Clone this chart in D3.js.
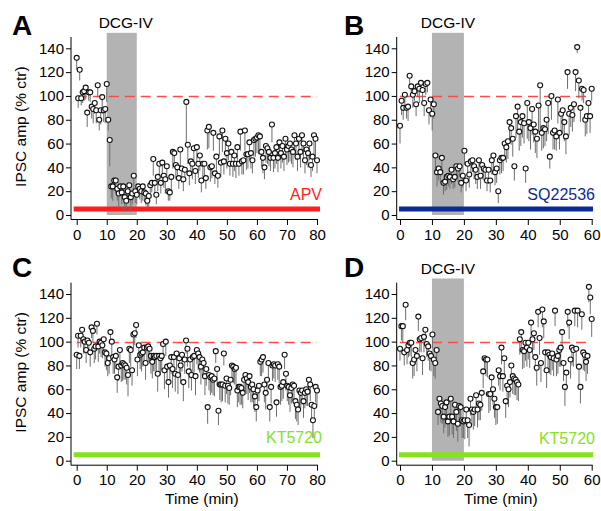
<!DOCTYPE html>
<html>
<head>
<meta charset="utf-8">
<script src="https://cdn.jsdelivr.net/npm/d3@7"></script>
<style>
  body { margin: 0; background: #fff; }
  svg { font-family: 'Liberation Sans', Arial, Helvetica, sans-serif; }
</style>
</head>
<body>
<div class="canvas"></div>
<script>
// IPSC amplitude (% ctr), samples evenly spread over each recording
const ampA = [
  132, 98, 122, 98, 103, 104, 107, 86, 103, 103, 91, 89, 94, 88, 109, 80, 88, 99, 88, 89, 110, 80, 63,
  24, 24, 29, 29, 22, 18, 24, 19, 24, 15, 12, 20, 25, 15, 18, 33, 20, 17,
  24, 22, 20, 24, 19, 18, 12, 16, 25, 27, 47, 27, 17, 32, 43, 27, 44, 33, 30, 41, 20, 19,
  32, 53, 52, 42, 40, 31, 55, 39, 30, 38,
  95, 59, 35, 45, 43, 56, 37, 57, 43, 50,
  29, 43, 43, 31, 71, 74, 40, 41, 69, 35,
  49, 33, 66, 44, 71, 45, 64, 52, 60, 43,
  53, 43, 50, 43, 57, 43, 70, 45, 46, 71,
  51, 51, 61, 52, 46, 63, 64, 65, 67, 66,
  53, 48, 40, 58, 56, 53, 48, 76, 48, 52,
  57, 48, 61, 52, 58, 49, 64, 55, 58, 60,
  55, 53, 67, 60, 49, 64, 53, 67, 60, 46,
  55, 52, 60, 42, 49, 67, 64, 46
]
const errA = [
  10, 8, 9, 6, 9, 8, 10, 12, 7, 8, 10, 12, 9, 11, 10, 9, 12, 14, 10, 12, 15, 9, 22,
  10, 12, 9, 11, 10, 12, 8, 10, 9, 12, 6, 10, 8, 12, 9, 14, 10, 8,
  8, 9, 10, 12, 8, 10, 6, 9, 10, 8, 14, 10, 8, 12, 11, 9, 13, 10, 12, 11, 8, 7,
  12, 14, 10, 12, 11, 9, 14, 12, 10, 9,
  35, 16, 10, 12, 13, 15, 11, 14, 12, 13,
  10, 12, 11, 9, 16, 18, 12, 10, 15, 9,
  13, 10, 16, 12, 18, 11, 15, 13, 14, 10,
  12, 11, 13, 12, 14, 10, 16, 11, 12, 17,
  13, 12, 15, 13, 11, 14, 15, 13, 16, 14,
  12, 13, 10, 14, 13, 12, 11, 15, 12, 13,
  14, 12, 15, 13, 14, 12, 16, 13, 14, 15,
  12, 13, 16, 14, 12, 15, 13, 16, 14, 11,
  13, 12, 14, 10, 12, 16, 15, 11
]

const ampB = [
  75, 96, 90, 101, 90, 91, 117, 108, 101, 104,
  93, 108, 106, 111, 105, 94, 110, 111, 88, 97,
  85, 93, 50, 36, 39, 36, 48, 27, 28, 32,
  33, 32, 38, 30, 32, 41, 39, 41, 27, 33,
  54, 29, 43, 34, 45, 46, 41, 38, 32, 46,
  33, 42, 39, 38, 29, 38, 29, 46, 50, 36,
  39, 20, 46, 48, 48, 60, 57, 62, 78, 73,
  64, 41, 83, 91, 70, 78, 83, 77, 39, 94,
  78, 73, 89, 76, 70, 64, 92, 109, 69, 73,
  72, 80, 94, 49, 100, 69, 71, 66, 97, 69,
  85, 88, 78, 66, 120, 85, 90, 84, 93, 120,
  141, 113, 90, 106, 105, 80, 83, 94, 83, 106
]
const errB = [
  15, 12, 10, 11, 9, 12, 10, 9, 11, 8,
  10, 9, 12, 8, 10, 11, 9, 8, 12, 15,
  14, 12, 16, 12, 10, 9, 12, 10, 8, 11,
  9, 10, 12, 8, 9, 10, 11, 9, 8, 10,
  12, 9, 10, 11, 12, 10, 11, 12, 10, 13,
  11, 12, 10, 11, 9, 12, 10, 12, 14, 11,
  12, 10, 12, 13, 11, 14, 13, 15, 16, 14,
  15, 12, 18, 22, 16, 20, 18, 17, 12, 30,
  16, 18, 22, 15, 18, 16, 22, 38, 15, 17,
  14, 18, 26, 10, 20, 14, 16, 12, 20, 14,
  18, 20, 16, 15, 14, 18, 16, 14, 15, 16,
  5, 15, 12, 10, 11, 14, 15, 12, 14, 10
]

const ampC = [
  89, 105, 88, 105, 110, 102, 100, 93, 101, 99,
  91, 112, 109, 94, 96, 115, 96, 100, 99, 97,
  102, 91, 90, 82, 86, 108, 100, 87, 85, 88,
  70, 79, 93, 80, 82, 81, 80, 78, 72, 94,
  93, 76, 106, 107, 114, 85, 97, 89, 90, 91,
  95, 82, 95, 96, 94, 88, 83, 88, 87, 88,
  73, 88, 86, 88, 98, 76, 100, 79, 66, 80,
  87, 77, 87, 73, 90, 72, 86, 80, 89, 66,
  85, 101, 94, 75, 85, 72, 87, 88, 71,
  93, 90, 87, 79, 85, 82, 71, 77, 45, 72,
  70, 71, 68, 69, 92, 77, 42, 64, 64, 64,
  90, 63, 69, 63, 61, 68, 80, 79, 77, 78,
  59, 62, 62, 61, 57, 68, 72, 69, 66, 71,
  62, 64, 60, 54, 45, 59, 63, 83, 85, 87,
  64, 57, 68, 82, 45, 62, 80, 81, 80, 49,
  81, 79, 62, 63, 66, 89, 73, 63, 62, 55,
  61, 64, 63, 50, 47, 43, 59, 57, 59, 50,
  57, 60, 58, 68, 64, 47, 34, 46, 62, 59
]
const errC = [
  12, 10, 11, 10, 9, 12, 10, 11, 9, 10,
  12, 9, 10, 12, 11, 9, 13, 10, 12, 11,
  10, 12, 14, 11, 13, 9, 12, 14, 12, 11,
  13, 12, 11, 14, 15, 13, 12, 14, 18, 12,
  14, 13, 12, 10, 11, 14, 13, 12, 15, 12,
  11, 14, 12, 13, 12, 15, 14, 13, 12, 14,
  15, 13, 14, 12, 13, 16, 12, 14, 13, 15,
  14, 16, 13, 15, 14, 16, 13, 15, 14, 16,
  12, 11, 15, 14, 16, 13, 15, 14, 16,
  12, 14, 13, 15, 14, 13, 16, 14, 14, 13,
  15, 14, 13, 15, 10, 14, 12, 13, 15, 14,
  10, 14, 13, 15, 14, 13, 12, 14, 13, 15,
  14, 13, 15, 14, 13, 12, 14, 13, 15, 14,
  13, 15, 14, 13, 12, 14, 13, 12, 14, 13,
  15, 14, 13, 14, 12, 14, 13, 12, 14, 12,
  13, 14, 15, 13, 14, 12, 14, 13, 15, 14,
  13, 14, 12, 15, 14, 13, 14, 13, 12, 14,
  13, 14, 12, 13, 14, 12, 15, 14, 13, 12
]

const ampD = [
  94, 113, 113, 91, 131, 93, 97, 99, 99, 82,
  85, 93, 88, 121, 102, 103, 86, 104, 110, 98,
  96, 90, 88, 106, 85, 82, 93, 41, 52, 48,
  46, 37, 45, 49, 33, 37, 52, 37, 33, 47,
  41, 31, 46, 45, 34, 33, 34, 43, 34, 30,
  52, 43, 41, 43, 55, 43, 48, 47, 57, 75,
  86,
  85, 85, 56, 56, 70, 60, 52, 45, 45, 76,
  71, 95, 71, 86, 50, 63, 60, 66, 80, 71,
  69, 68, 66, 64, 102, 108, 93, 92, 99, 95,
  99, 93, 116, 102, 107, 87, 78, 125, 103, 82,
  127, 117, 91, 76, 91, 89, 87, 90, 86, 126,
  85, 88, 93, 95, 108, 82, 62, 74, 125, 116,
  85, 95, 93, 126, 94, 126, 79, 62, 123, 91,
  89, 83, 88, 146, 137, 119
]
const errD = [
  10, 12, 14, 11, 13, 12, 10, 11, 12, 13,
  14, 12, 13, 12, 11, 12, 14, 13, 12, 11,
  12, 14, 13, 12, 14, 13, 12, 11, 14, 16,
  15, 14, 17, 15, 13, 16, 18, 15, 14, 17,
  16, 15, 14, 16, 15, 14, 16, 13, 15, 18,
  14, 13, 15, 14, 13, 15, 14, 13, 15, 14,
  13,
  14, 15, 16, 14, 15, 13, 16, 15, 14, 13,
  12, 14, 13, 15, 14, 16, 15, 13, 14, 15,
  14, 13, 15, 14, 13, 15, 16, 14, 15, 16,
  14, 15, 14, 13, 14, 12, 15, 13, 14, 16,
  15, 14, 13, 15, 14, 16, 15, 14, 15, 13,
  14, 15, 14, 16, 14, 15, 16, 15, 13, 14,
  16, 15, 14, 13, 15, 14, 15, 14, 13, 15,
  14, 16, 15, 13, 14, 15
]

const durations = [80, 60, 80, 60]          // recording length (min)
const drugs = ['APV', 'SQ22536', 'KT5720', 'KT5720']
const drugSpan = [[-1, 81], [-0.3, 60.4], [-1, 81], [-0.3, 60.4]]
const dcgPanels = [true, true, false, true]
const dcgWindow = [10, 20]
const yTicks = [0, 20, 40, 60, 80, 100, 120, 140]
const xTicksLong = [0, 10, 20, 30, 40, 50, 60, 70, 80]
const xTicksShort = [0, 10, 20, 30, 40, 50, 60]

const red = '#ff1e1e'
const blue = '#0b2a94'
const green = '#84e21f'
const drugColors = [red, blue, green, green]

const svg = d3.select('.canvas')
  .append('svg')
  .attr('width', 601)
  .attr('height', 511)

// layout of the 2x2 grid (pixels)
const layout = [
  { letter: 'A', x0: 76.7, x1: 317, base: 215, axisX: 71, lx: 12, ly: 35, dcgDx: 4, drugY: 200 },
  { letter: 'B', x0: 400, x1: 591.7, base: 215, axisX: 396.7, lx: 344, ly: 35, dcgDx: 0, drugY: 200 },
  { letter: 'C', x0: 76.7, x1: 317, base: 460.7, axisX: 71, lx: 12, ly: 277, dcgDx: 0, drugY: 443 },
  { letter: 'D', x0: 400, x1: 591.7, base: 460.7, axisX: 396.7, lx: 344, ly: 277, dcgDx: 0, drugY: 444 }
]
const series = [[ampA, errA], [ampB, errB], [ampC, errC], [ampD, errD]]

layout.forEach((p, k) => {
  const dur = durations[k]
  const [amp, err] = series[k]
  const x = d3.scaleLinear().domain([0, dur]).range([p.x0, p.x1])
  const y = d3.scaleLinear().domain([0, 140]).range([p.base, p.base - 166.7])
  const axisY = p.base + 4.5
  const g = svg.append('g')

  // DCG-IV application
  if (dcgPanels[k]) {
    g.append('rect')
      .attr('x', x(dcgWindow[0]))
      .attr('width', x(dcgWindow[1]) - x(dcgWindow[0]))
      .attr('y', y(153))
      .attr('height', y(0) - y(153))
      .attr('fill', '#b3b3b3')
    g.append('text')
      .attr('x', (x(dcgWindow[0]) + x(dcgWindow[1])) / 2 + p.dcgDx)
      .attr('y', y(153) - 5)
      .attr('text-anchor', 'middle')
      .attr('font-size', 15.5)
      .text('DCG-IV')
  }

  // 100 % baseline
  g.append('line')
    .attr('x1', x(0)).attr('x2', x(dur))
    .attr('y1', Math.round(y(100)) + 0.5).attr('y2', Math.round(y(100)) + 0.5)
    .attr('stroke', '#ff4a4a')
    .attr('stroke-width', 1.3)
    .attr('stroke-dasharray', '10,6')

  // drug bar
  g.append('line')
    .attr('x1', x(drugSpan[k][0])).attr('x2', x(drugSpan[k][1]))
    .attr('y1', y(5)).attr('y2', y(5))
    .attr('stroke', drugColors[k])
    .attr('stroke-width', 5)
  g.append('text')
    .attr('x', x(drugSpan[k][1]) + 2)
    .attr('y', p.drugY)
    .attr('text-anchor', 'end')
    .attr('font-size', 16)
    .attr('fill', drugColors[k])
    .text(drugs[k])

  const pts = amp.map((v, i) => ({ t: i * dur / (amp.length - 1), v, e: err[i] }))

  // error bars (downward)
  g.selectAll('.err')
    .data(pts)
    .enter()
    .append('line')
      .attr('class', 'err')
      .attr('x1', d => x(d.t)).attr('x2', d => x(d.t))
      .attr('y1', d => y(d.v)).attr('y2', d => y(d.v - d.e))
      .attr('stroke', '#6e6e6e')
      .attr('stroke-width', 1)

  g.selectAll('.pt')
    .data(pts)
    .enter()
    .append('circle')
      .attr('class', 'pt')
      .attr('cx', d => x(d.t))
      .attr('cy', d => y(d.v))
      .attr('r', 2.5)
      .attr('fill', 'white')
      .attr('stroke', '#111')
      .attr('stroke-width', 1.1)

  // axes
  const yAxis = g.append('g')
    .attr('transform', `translate(${p.axisX}, 0)`)
    .call(d3.axisLeft(y).tickValues(yTicks).tickSize(5).tickPadding(2).tickSizeOuter(0))
  yAxis.select('.domain').remove()
  yAxis.append('line')
    .attr('y1', y(149.5)).attr('y2', axisY)
    .attr('stroke', '#000')

  const xAxis = g.append('g')
    .attr('transform', `translate(0, ${axisY})`)
    .call(d3.axisBottom(x).tickValues(dur === 80 ? xTicksLong : xTicksShort).tickSize(5.5).tickPadding(4).tickSizeOuter(0))
  xAxis.select('.domain').remove()
  xAxis.append('line')
    .attr('x1', p.axisX).attr('x2', x(dur) + 1)
    .attr('stroke', '#000')

  svg.selectAll('.tick text')
    .attr('font-size', 15)
    .attr('font-family', "'Liberation Sans', Arial, sans-serif")
    .attr('fill', '#000')

  // panel letter
  svg.append('text')
    .attr('x', p.lx).attr('y', p.ly)
    .attr('font-size', 28)
    .attr('font-weight', 'bold')
    .text(p.letter)

  // axis titles on the left column / bottom row
  if (k % 2 === 0) {
    svg.append('text')
      .attr('transform', `translate(26, ${(y(0) + y(140)) / 2 - 5}) rotate(-90)`)
      .attr('text-anchor', 'middle')
      .attr('font-size', 15.5)
      .text('IPSC amp (% ctr)')
  }
  if (k >= 2) {
    svg.append('text')
      .attr('x', (x(0) + x(dur)) / 2 + 5)
      .attr('y', 504)
      .attr('text-anchor', 'middle')
      .attr('font-size', 15.5)
      .text('Time (min)')
  }
})
</script>
</body>
</html>
